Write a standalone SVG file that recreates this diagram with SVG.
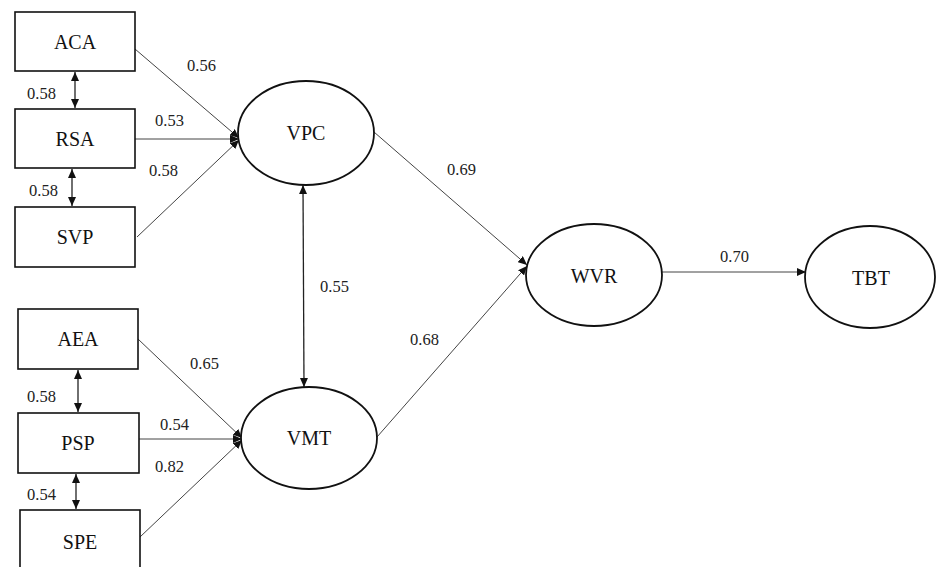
<svg xmlns="http://www.w3.org/2000/svg" width="936" height="567" viewBox="0 0 936 567">
<style>
.box{fill:#fff;stroke:#111;stroke-width:1.6}
.ell{fill:#fff;stroke:#111;stroke-width:1.8}
text{font-family:'Liberation Serif','DejaVu Serif','Noto Serif',serif}
.nt{font-size:20px;fill:#111;text-anchor:middle}
.lb{font-size:16.5px;fill:#222}
.ln{stroke:#444;stroke-width:1;fill:none;marker-end:url(#ah)}
.dl{stroke:#222;stroke-width:1.3;fill:none;marker-start:url(#ah);marker-end:url(#ah)}
</style>
<defs>
<marker id="ah" markerUnits="userSpaceOnUse" markerWidth="10" markerHeight="8" refX="9" refY="4" orient="auto-start-reverse">
<path d="M0,0 L9,4 L0,8 Z" fill="#111"/>
</marker>
</defs>
<g id="connectors">
<line class="ln" x1="135" y1="49" x2="239" y2="138"/>
<line class="ln" x1="135" y1="139" x2="239" y2="139"/>
<line class="ln" x1="137" y1="237" x2="239" y2="140"/>
<line class="dl" x1="75" y1="72" x2="75" y2="108"/>
<line class="dl" x1="72" y1="169" x2="72" y2="206"/>
<line class="ln" x1="138" y1="339" x2="242" y2="438"/>
<line class="ln" x1="139" y1="439" x2="242" y2="439"/>
<line class="ln" x1="140" y1="537" x2="242" y2="440"/>
<line class="dl" x1="78" y1="370" x2="78" y2="412"/>
<line class="dl" x1="76" y1="474" x2="76" y2="509"/>
<line class="dl" x1="303" y1="185" x2="304" y2="387"/>
<line class="ln" x1="374" y1="132" x2="527" y2="265"/>
<line class="ln" x1="377" y1="437" x2="527" y2="266"/>
<line class="ln" x1="662" y1="272" x2="806" y2="272"/>
<text class="lb" x="187" y="71" font-family="Liberation Serif, serif">0.56</text>
<text class="lb" x="155" y="126" font-family="Liberation Serif, serif">0.53</text>
<text class="lb" x="149" y="176" font-family="Liberation Serif, serif">0.58</text>
<text class="lb" x="27" y="99" font-family="Liberation Serif, serif">0.58</text>
<text class="lb" x="29" y="196" font-family="Liberation Serif, serif">0.58</text>
<text class="lb" x="190" y="369" font-family="Liberation Serif, serif">0.65</text>
<text class="lb" x="27" y="402" font-family="Liberation Serif, serif">0.58</text>
<text class="lb" x="160" y="430" font-family="Liberation Serif, serif">0.54</text>
<text class="lb" x="155" y="472" font-family="Liberation Serif, serif">0.82</text>
<text class="lb" x="27" y="500" font-family="Liberation Serif, serif">0.54</text>
<text class="lb" x="320" y="292" font-family="Liberation Serif, serif">0.55</text>
<text class="lb" x="447" y="175" font-family="Liberation Serif, serif">0.69</text>
<text class="lb" x="410" y="345" font-family="Liberation Serif, serif">0.68</text>
<text class="lb" x="720" y="262" font-family="Liberation Serif, serif">0.70</text>
</g>
<g id="ACA"><rect class="box" x="15" y="12" width="120" height="59"/><text class="nt" x="75" y="49">ACA</text></g>
<g id="RSA"><rect class="box" x="15" y="109" width="120" height="59"/><text class="nt" x="75" y="146">RSA</text></g>
<g id="SVP"><rect class="box" x="15" y="207" width="120" height="60"/><text class="nt" x="75" y="244">SVP</text></g>
<g id="AEA"><rect class="box" x="18" y="309" width="120" height="60"/><text class="nt" x="78" y="346">AEA</text></g>
<g id="PSP"><rect class="box" x="18" y="413" width="121" height="60"/><text class="nt" x="78" y="450">PSP</text></g>
<g id="SPE"><rect class="box" x="20" y="510" width="120" height="70"/><text class="nt" x="80" y="549">SPE</text></g>
<g id="VPC"><ellipse class="ell" cx="306" cy="133" rx="68" ry="52"/><text class="nt" x="306" y="140">VPC</text></g>
<g id="VMT"><ellipse class="ell" cx="309" cy="438" rx="68" ry="51"/><text class="nt" x="309" y="445">VMT</text></g>
<g id="WVR"><ellipse class="ell" cx="594" cy="275" rx="68" ry="51"/><text class="nt" x="594" y="283">WVR</text></g>
<g id="TBT"><ellipse class="ell" cx="870" cy="277" rx="65" ry="51"/><text class="nt" x="871" y="285">TBT</text></g>
</svg>
